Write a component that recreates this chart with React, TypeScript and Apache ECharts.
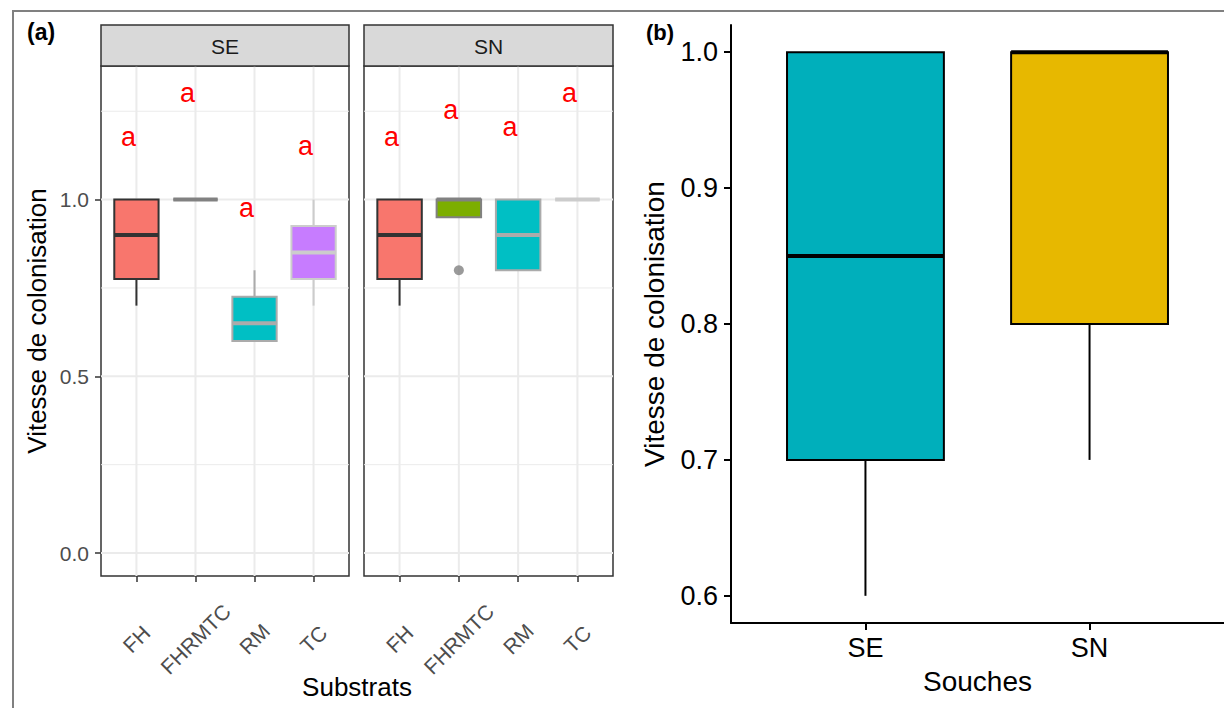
import React, { useEffect, useRef } from 'react';
import * as echarts from 'echarts';

// ---------- data ----------
const substrats = ['FH', 'FHRMTC', 'RM', 'TC'];
const souches = ['SE', 'SN'];
// boxes: [min, q1, median, q3, max]
const seBoxes = [
  [0.7, 0.775, 0.9, 1.0, 1.0],
  [1.0, 1.0, 1.0, 1.0, 1.0],
  [0.6, 0.6, 0.65, 0.725, 0.8],
  [0.7, 0.775, 0.85, 0.925, 1.0],
];
const snBoxes = [
  [0.7, 0.775, 0.9, 1.0, 1.0],
  [0.95, 0.95, 1.0, 1.0, 1.0],
  [0.8, 0.8, 0.9, 1.0, 1.0],
  [1.0, 1.0, 1.0, 1.0, 1.0],
];
const snOutliers = [[2, 0.8]];
const letters = ['a', 'a', 'a', 'a'];
const seLetterY = [1.176, 1.303, 0.977, 1.153];
const snLetterY = [1.177, 1.254, 1.204, 1.303];
const soucheBoxes = [
  [0.6, 0.7, 0.85, 1.0, 1.0],
  [0.7, 0.8, 1.0, 1.0, 1.0],
];
const yTicksA = [0, 0.5, 1.0];
const yMinorA = [0.25, 0.75, 1.25];
const xTicksA = [1, 2, 3, 4];
const xTicksB = [1, 2];
const yTicksB = [0.6, 0.7, 0.8, 0.9, 1.0];

// ---------- styles ----------
const FONT = '"Liberation Sans", Arial, Helvetica, sans-serif';
const substratFill = ['#F8766D', '#7CAE00', '#00BFC4', '#C77CFF'];
const substratEdge = ['#333333', '#818181', '#ABABAB', '#CCCCCC'];
const soucheFill = ['#00AFBB', '#E7B800'];
const LETTER_NUDGE = -0.135;

function boxRenderer(boxWidth: number, fills: string[], edges: string[] | null, lw: number, medW: number) {
  return (params: any, api: any) => {
    const x = api.value(0);
    const idx = api.value(6);
    const lo = api.coord([x, api.value(1)]);
    const q1 = api.coord([x, api.value(2)]);
    const md = api.coord([x, api.value(3)]);
    const q3 = api.coord([x, api.value(4)]);
    const hi = api.coord([x, api.value(5)]);
    const w = api.size([boxWidth, 0])[0];
    const cx = q1[0];
    const edge = edges ? edges[idx] : '#000000';
    const children: any[] = [];
    if (lo[1] - q1[1] > 0.5) {
      children.push({ type: 'line', shape: { x1: cx, y1: lo[1], x2: cx, y2: q1[1] }, style: { stroke: edge, lineWidth: lw } });
    }
    if (q3[1] - hi[1] > 0.5) {
      children.push({ type: 'line', shape: { x1: cx, y1: q3[1], x2: cx, y2: hi[1] }, style: { stroke: edge, lineWidth: lw } });
    }
    children.push({
      type: 'rect',
      shape: { x: cx - w / 2, y: q3[1], width: w, height: q1[1] - q3[1] },
      style: { fill: fills[idx], stroke: edge, lineWidth: lw },
    });
    children.push({
      type: 'line',
      shape: { x1: cx - w / 2, y1: md[1], x2: cx + w / 2, y2: md[1] },
      style: { stroke: edge, lineWidth: medW },
    });
    return { type: 'group', children };
  };
}

function hLineRenderer(color: string, lw: number) {
  return (params: any, api: any) => {
    const cs = params.coordSys;
    const y = api.coord([1, api.value(0)])[1];
    return { type: 'line', shape: { x1: cs.x, y1: y, x2: cs.x + cs.width, y2: y }, style: { stroke: color, lineWidth: lw } };
  };
}
function vLineRenderer(color: string, lw: number) {
  return (params: any, api: any) => {
    const cs = params.coordSys;
    const x = api.coord([api.value(0), 0.5])[0];
    return { type: 'line', shape: { x1: x, y1: cs.y, x2: x, y2: cs.y + cs.height }, style: { stroke: color, lineWidth: lw } };
  };
}
function letterRenderer(params: any, api: any) {
  const p = api.coord([api.value(0) + LETTER_NUDGE, api.value(1)]);
  return {
    type: 'text',
    x: p[0],
    y: p[1],
    style: { text: letters[api.value(2)], fill: '#FF0000', fontSize: 27, fontFamily: FONT, align: 'center', verticalAlign: 'middle' },
  };
}

function gridSeries(gi: number) {
  return [
    { type: 'custom', xAxisIndex: gi, yAxisIndex: gi, z: 1, silent: true, renderItem: hLineRenderer('#EBEBEB', 1), data: yMinorA.map((v) => [v]) },
    { type: 'custom', xAxisIndex: gi, yAxisIndex: gi, z: 1, silent: true, renderItem: hLineRenderer('#EBEBEB', 2), data: yTicksA.map((v) => [v]) },
    { type: 'custom', xAxisIndex: gi, yAxisIndex: gi, z: 1, silent: true, renderItem: vLineRenderer('#EBEBEB', 2), data: xTicksA.map((v) => [v]) },
  ];
}

function facetX(gi: number) {
  return {
    gridIndex: gi,
    type: 'value',
    min: 0.4,
    max: 4.6,
    axisLine: { show: false, onZero: false },
    axisTick: { show: true, customValues: xTicksA, length: 6, lineStyle: { color: '#333333', width: 1.5 } },
    axisLabel: {
      customValues: xTicksA,
      formatter: (v: number) => substrats[Math.round(v) - 1] || '',
      rotate: 45,
      align: 'center',
      verticalAlign: 'middle',
      margin: 63,
      color: '#4D4D4D',
      fontSize: 21,
      fontFamily: FONT,
    },
    splitLine: { show: false },
  };
}

export default function App() {
  const ref = useRef<HTMLDivElement>(null);
  useEffect(() => {
    if (!ref.current) return;
    const chart = echarts.init(ref.current, null, { renderer: 'svg' });
    const option: any = {
      animation: false,
      backgroundColor: '#FFFFFF',
      textStyle: { fontFamily: FONT },
      grid: [
        { left: 101, top: 66, width: 248, height: 510, show: true, borderColor: '#333333', borderWidth: 1.5, backgroundColor: 'transparent' },
        { left: 364, top: 66, width: 249, height: 510, show: true, borderColor: '#333333', borderWidth: 1.5, backgroundColor: 'transparent' },
        { left: 731, top: 25, width: 497, height: 598 },
      ],
      xAxis: [
        facetX(0),
        facetX(1),
        {
          gridIndex: 2,
          type: 'value',
          min: 0.4,
          max: 2.6,
          axisLine: { show: true, onZero: false, lineStyle: { color: '#000000', width: 2 } },
          axisTick: { show: true, customValues: xTicksB, length: 7, lineStyle: { color: '#000000', width: 2 } },
          axisLabel: {
            customValues: xTicksB,
            formatter: (v: number) => souches[Math.round(v) - 1] || '',
            margin: 11,
            color: '#000000',
            fontSize: 27,
            fontFamily: FONT,
          },
          splitLine: { show: false },
          name: 'Souches',
          nameLocation: 'middle',
          nameGap: 44,
          nameTextStyle: { fontSize: 28, color: '#000000', fontFamily: FONT },
        },
      ],
      yAxis: [
        {
          gridIndex: 0,
          type: 'value',
          min: -0.065,
          max: 1.378,
          axisLine: { show: false, onZero: false },
          axisTick: { show: true, customValues: yTicksA, length: 6, lineStyle: { color: '#333333', width: 1.5 } },
          axisLabel: {
            customValues: yTicksA,
            formatter: (v: number) => v.toFixed(1),
            margin: 12,
            color: '#4D4D4D',
            fontSize: 21,
            fontFamily: FONT,
          },
          splitLine: { show: false },
          name: 'Vitesse de colonisation',
          nameLocation: 'middle',
          nameGap: 51,
          nameRotate: 90,
          nameTextStyle: { fontSize: 26, color: '#000000', fontFamily: FONT },
        },
        {
          gridIndex: 1,
          type: 'value',
          min: -0.065,
          max: 1.378,
          axisLine: { show: false, onZero: false },
          axisTick: { show: false },
          axisLabel: { show: false },
          splitLine: { show: false },
        },
        {
          gridIndex: 2,
          type: 'value',
          min: 0.58,
          max: 1.02,
          axisLine: { show: true, onZero: false, lineStyle: { color: '#000000', width: 2 } },
          axisTick: { show: true, customValues: yTicksB, length: 7, lineStyle: { color: '#000000', width: 2 } },
          axisLabel: {
            customValues: yTicksB,
            formatter: (v: number) => v.toFixed(1),
            margin: 13,
            color: '#000000',
            fontSize: 27,
            fontFamily: FONT,
          },
          splitLine: { show: false },
          name: 'Vitesse de colonisation',
          nameLocation: 'middle',
          nameGap: 63,
          nameRotate: 90,
          nameTextStyle: { fontSize: 28, color: '#000000', fontFamily: FONT },
        },
      ],
      series: [
        ...gridSeries(0),
        ...gridSeries(1),
        {
          type: 'custom', xAxisIndex: 0, yAxisIndex: 0, z: 3, silent: true,
          renderItem: boxRenderer(0.75, substratFill, substratEdge, 2, 4),
          data: seBoxes.map((b, i) => [i + 1, ...b, i]),
        },
        {
          type: 'custom', xAxisIndex: 1, yAxisIndex: 1, z: 3, silent: true,
          renderItem: boxRenderer(0.75, substratFill, substratEdge, 2, 4),
          data: snBoxes.map((b, i) => [i + 1, ...b, i]),
        },
        {
          type: 'scatter', xAxisIndex: 1, yAxisIndex: 1, z: 4, silent: true,
          symbol: 'circle', symbolSize: 10,
          itemStyle: { color: '#818181' },
          data: snOutliers,
        },
        {
          type: 'custom', xAxisIndex: 0, yAxisIndex: 0, z: 5, silent: true,
          renderItem: letterRenderer,
          data: seLetterY.map((y, i) => [i + 1, y, i]),
        },
        {
          type: 'custom', xAxisIndex: 1, yAxisIndex: 1, z: 5, silent: true,
          renderItem: letterRenderer,
          data: snLetterY.map((y, i) => [i + 1, y, i]),
        },
        {
          type: 'custom', xAxisIndex: 2, yAxisIndex: 2, z: 3, silent: true,
          renderItem: boxRenderer(0.7, soucheFill, null, 2, 4),
          data: soucheBoxes.map((b, i) => [i + 1, ...b, i]),
        },
      ],
      graphic: [
        {
          type: 'polyline', z: 10, silent: true,
          shape: { points: [[13, 720], [13, 11], [1230, 11]] },
          style: { stroke: '#808080', lineWidth: 2, fill: 'none' },
        },
        {
          type: 'rect', z: 10, silent: true,
          shape: { x: 101, y: 25, width: 248, height: 41 },
          style: { fill: '#D9D9D9', stroke: '#333333', lineWidth: 1.5 },
        },
        {
          type: 'rect', z: 10, silent: true,
          shape: { x: 364, y: 25, width: 249, height: 41 },
          style: { fill: '#D9D9D9', stroke: '#333333', lineWidth: 1.5 },
        },
        {
          type: 'text', z: 11, silent: true, x: 225, y: 46,
          style: { text: 'SE', fill: '#1A1A1A', fontSize: 21, fontFamily: FONT, align: 'center', verticalAlign: 'middle' },
        },
        {
          type: 'text', z: 11, silent: true, x: 488.5, y: 46,
          style: { text: 'SN', fill: '#1A1A1A', fontSize: 21, fontFamily: FONT, align: 'center', verticalAlign: 'middle' },
        },
        {
          type: 'text', z: 11, silent: true, x: 27, y: 32,
          style: { text: '(a)', fill: '#000000', fontSize: 23, fontWeight: 'bold', fontFamily: FONT, align: 'left', verticalAlign: 'middle' },
        },
        {
          type: 'text', z: 11, silent: true, x: 646, y: 32,
          style: { text: '(b)', fill: '#000000', fontSize: 22, fontWeight: 'bold', fontFamily: FONT, align: 'left', verticalAlign: 'middle' },
        },
        {
          type: 'text', z: 11, silent: true, x: 357, y: 687,
          style: { text: 'Substrats', fill: '#000000', fontSize: 26, fontFamily: FONT, align: 'center', verticalAlign: 'middle' },
        },
      ],
    };
    chart.setOption(option);
    return () => chart.dispose();
  }, []);
  return <div ref={ref} style={{ position: 'absolute', left: 0, top: 0, width: 1224, height: 708 }} />;
}
